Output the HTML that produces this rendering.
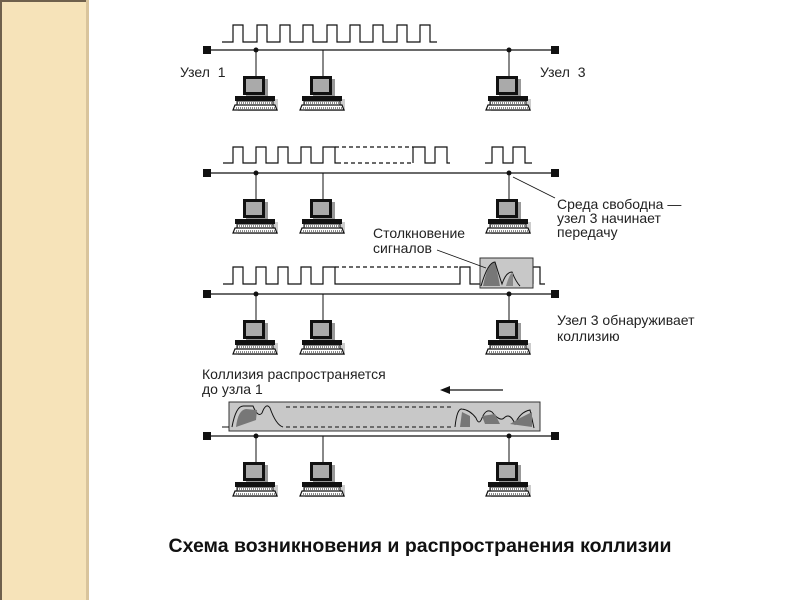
<!DOCTYPE html>
<html><head><meta charset="utf-8"><style>
html,body{margin:0;padding:0;background:#fff;}
svg text{font-family:"Liberation Sans",Arial,sans-serif;font-size:14px;fill:#222;}
</style></head><body>
<svg width="800" height="600" viewBox="0 0 800 600" xmlns="http://www.w3.org/2000/svg">
<defs>
<g id="pc">
  <rect x="-10" y="29" width="22" height="19" fill="#999"/>
  <rect x="-13" y="26" width="22" height="19" fill="#111"/>
  <rect x="-10" y="29" width="16" height="13" fill="#aaa"/>
  <rect x="-18" y="49" width="40" height="12" fill="#aaa" opacity="0.6"/>
  <rect x="-21" y="46" width="40" height="5" fill="#111"/>
  <rect x="-19" y="51" width="36" height="4" fill="#fff" stroke="#111" stroke-width="1"/>
  <path d="M-19 53 H17" stroke="#111" stroke-dasharray="1,1"/>
  <path d="M-21 55 H19 L21 60 H-23 Z" fill="#fff" stroke="#111" stroke-width="1.2"/>
  <path d="M-20 58 H20" stroke="#111" stroke-dasharray="1,1"/>
</g>
<g id="bus">
  <line x1="207" y1="0" x2="555" y2="0" stroke="#111" stroke-width="1.2"/>
  <rect x="203" y="-4" width="8" height="8" fill="#111"/>
  <rect x="551" y="-4" width="8" height="8" fill="#111"/>
  <line x1="256" y1="0" x2="256" y2="26" stroke="#111"/>
  <line x1="323" y1="0" x2="323" y2="26" stroke="#111"/>
  <line x1="509" y1="0" x2="509" y2="26" stroke="#111"/>
  <circle cx="256" cy="0" r="2.5" fill="#111"/>
  <circle cx="509" cy="0" r="2.5" fill="#111"/>
  <use href="#pc" x="256"/>
  <use href="#pc" x="323"/>
  <use href="#pc" x="509"/>
</g>
</defs>
<rect x="0" y="0" width="89" height="600" fill="#f6e3b9"/>
<rect x="0" y="0" width="2" height="600" fill="#6f604c"/>
<rect x="0" y="0" width="89" height="2" fill="#6f604c"/>
<rect x="86" y="0" width="3" height="600" fill="#d9c49c"/>

<g fill="none" stroke="#111" stroke-width="1.2">
<path d="M222 42 H233 V25 H243 V42 H257 V25 H267 V42 H280 V25 H290 V42 H303 V25 H313 V42 H327 V25 H337 V42 H350 V25 H360 V42 H373 V25 H383 V42 H397 V25 H407 V42 H420 V25 H430 V42 H437"/>
<path d="M223 163 H233 V147 H243 V163 H256 V147 H266 V163 H278 V147 H288 V163 H301 V147 H311 V163 H323 V147 H335 V163 H337"/>
<path d="M335 147 H413 M337 163 H413" stroke-dasharray="4,3"/>
<path d="M413 163 V147 H425 V163 H435 V147 H447 V163 H450"/>
<path d="M485 163 H492 V147 H503 V163 H513 V147 H525 V163 H532"/>
<path d="M223 284 H233 V267 H243 V284 H256 V267 H266 V284 H278 V267 H288 V284 H301 V267 H311 V284 H323 V267 H335 V284 H460 V267 H470 V284 H480"/>
<path d="M335 267 H460" stroke-dasharray="4,3"/>
<path d="M533 284 V267 H540 V284 H545"/>
</g>
<rect x="480" y="258" width="53" height="30" fill="#c8c8c8" stroke="#333"/>
<path d="M483 286 Q488 262 495 262 Q498 275 500 286 Z" fill="#777"/>
<path d="M481 286 Q488 262 495 262 Q499 275 502 284 Q506 272 512 272 Q516 282 520 286" fill="none" stroke="#111"/>
<path d="M506 286 Q510 272 513 273 V286 Z" fill="#888"/>

<rect x="229" y="402" width="311" height="29" fill="#c8c8c8" stroke="#333"/>
<path d="M222 427 H229 M232 427 Q236 405 244 406 L253 406 Q258 418 262 413 Q266 402 270 408 Q276 425 283 427" fill="none" stroke="#111"/>
<path d="M236 427 Q238 410 246 409 L257 410 L256 420 Z" fill="#777"/>
<path d="M286 407 H452 M286 427 H452" stroke="#111" stroke-dasharray="4,3"/>
<path d="M455 427 Q457 408 462 409 Q470 410 476 418 Q479 426 482 418 Q486 408 492 412 Q500 422 504 418 Q510 412 515 424 Q520 412 530 410 L534 428" fill="none" stroke="#111"/>
<path d="M460 427 L462 412 L470 416 L470 427 Z M482 416 L495 414 L500 424 L485 424 Z M510 424 L520 418 L532 412 L532 427 Z" fill="#777"/>
<line x1="446" y1="390" x2="503" y2="390" stroke="#111" stroke-width="1.2"/>
<path d="M440 390 L450 386 L450 394 Z" fill="#111"/>

<g transform="translate(0,50)"><use href="#bus"/></g>
<g transform="translate(0,173)"><use href="#bus"/></g>
<g transform="translate(0,294)"><use href="#bus"/></g>
<g transform="translate(0,436)"><use href="#bus"/></g>

<line x1="513" y1="177" x2="555" y2="198" stroke="#111" stroke-width="0.8"/>
<line x1="437" y1="250" x2="486" y2="268" stroke="#111" stroke-width="0.8"/>

<text x="180" y="77" style="word-spacing:4px">Узел 1</text>
<text x="540" y="77" style="word-spacing:4px">Узел 3</text>
<text x="557" y="209">Среда свободна —</text>
<text x="557" y="223">узел 3 начинает</text>
<text x="557" y="237">передачу</text>
<text x="373" y="238">Столкновение</text>
<text x="373" y="253">сигналов</text>
<text x="557" y="325">Узел 3 обнаруживает</text>
<text x="557" y="341">коллизию</text>
<text x="202" y="379">Коллизия распространяется</text>
<text x="202" y="394">до узла 1</text>
<text x="420" y="552" text-anchor="middle" style="font-size:19.5px;font-weight:bold;fill:#111">Схема возникновения и распространения коллизии</text>
</svg>
</body></html>
